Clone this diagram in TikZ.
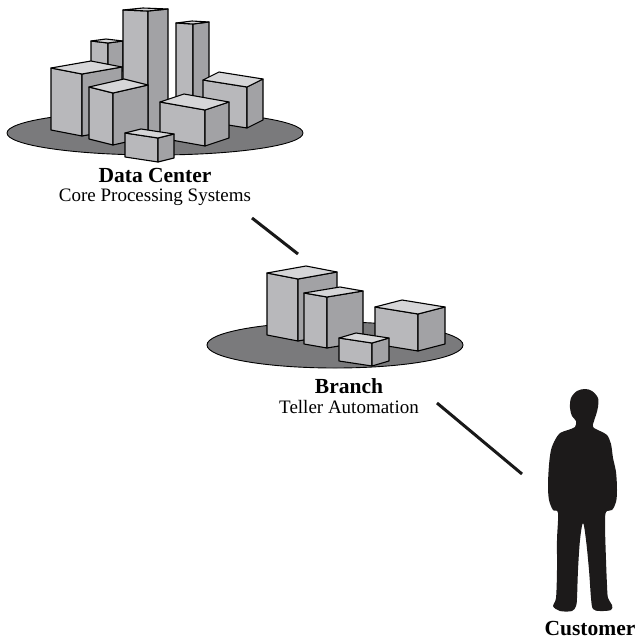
\documentclass[tikz,border=0pt]{standalone}
\usepackage{fontspec}
\setmainfont{Liberation Serif}
\usetikzlibrary{calc}

\definecolor{plate}{RGB}{122,122,124}
\definecolor{boxtop}{RGB}{214,214,216}
\definecolor{boxfront}{RGB}{184,184,187}
\definecolor{boxside}{RGB}{162,162,165}
\definecolor{figure}{RGB}{28,26,26}

% a box seen from above: left, front and right corners of the top,
% its back corner, and the height of the vertical edges
\newcommand\blk[5]{%
  \coordinate (bL) at #1; \coordinate (bF) at #2;
  \coordinate (bR) at #3; \coordinate (bB) at #4;
  \filldraw[boxedge,fill=boxfront] (bL) -- (bF) -- ($(bF)+(0,#5)$) -- ($(bL)+(0,#5)$) -- cycle;
  \filldraw[boxedge,fill=boxside] (bF) -- (bR) -- ($(bR)+(0,#5)$) -- ($(bF)+(0,#5)$) -- cycle;
  \filldraw[boxedge,fill=boxtop] (bL) -- (bF) -- (bR) -- (bB) -- cycle;
}

\tikzset{
  boxedge/.style={draw=black, line width=1.1pt, line join=round},
  platestyle/.style={draw=black, line width=0.9pt, fill=plate},
  link/.style={line width=3pt, draw=black!90},
  title/.style={font=\fontsize{21.5}{24}\selectfont\bfseries, anchor=base, inner sep=0pt},
  subtitle/.style={font=\fontsize{19}{22}\selectfont, anchor=base, inner sep=0pt},
}

\begin{document}
\begin{tikzpicture}[x=1pt, y=-1pt]
\useasboundingbox (0,0) rectangle (638,640);

% ---- data center ----
\filldraw[platestyle] (155,133) ellipse [x radius=148pt, y radius=22pt];
\blk{(91,41)}{(108,43)}{(123,41)}{(106,39)}{30}
\blk{(123,10)}{(148,11)}{(168,9)}{(143,8)}{125}
\blk{(176,23)}{(193,24)}{(209,22)}{(192,21)}{80}
\blk{(203,80)}{(247,87)}{(263,79)}{(219,72)}{41}
\blk{(51,68)}{(82,74)}{(122,67)}{(91,61)}{62}
\blk{(89,87)}{(113,93)}{(148,85)}{(124,79)}{52}
\blk{(160,102)}{(205,110)}{(229,102)}{(184,94)}{36}
\blk{(125,133)}{(158,138)}{(174,134)}{(141,129)}{24}

\node[title] (dc) at (155,182) {Data Center};
\node[subtitle] (dcsub) at (155,201) {Core Processing Systems};

% ---- branch ----
\filldraw[platestyle] (335,345) ellipse [x radius=128pt, y radius=23pt];
\blk{(267,273)}{(298,279)}{(337,272)}{(306,266)}{62}
\blk{(304,293)}{(327,297)}{(363,291)}{(340,287)}{51}
\blk{(375,307)}{(418,314)}{(445,307)}{(402,300)}{37}
\blk{(339,338)}{(372,343)}{(389,338)}{(356,333)}{23}

\node[title] (br) at (349,393) {Branch};
\node[subtitle] (brsub) at (349,413) {Teller Automation};

% ---- customer ----
\fill[figure] plot[smooth cycle, tension=0.55] coordinates {
  (585,389) (592,391) (598,398) (598,407) (596,415) (594,421) (593,427)
  (600,431) (607,435) (611,444) (613,458) (616,472) (617,490) (616,502)
  (612,510) (606,512) (605,525) (606,560) (607,585) (608,598) (612,605)
  (611,610) (600,611) (593,609) (591,598) (589,570) (586,540) (583,523)
  (580,540) (578,570) (577,598) (576,606) (572,611) (560,611) (553,606)
  (556,598) (557,570) (557,540) (558,513) (553,510) (549,500) (548,485)
  (549,465) (551,450) (555,440) (560,433) (568,430) (575,427) (576,421)
  (572,416) (570,408) (571,398) (577,391)};
\node[title] (cu) at (590,635) {Customer};

% ---- connectors ----
\coordinate (dcEnd) at (252,218);
\coordinate (brTop) at (298,254);
\coordinate (brEnd) at (437,403);
\coordinate (cuEnd) at (522,474);
\draw[link] (dcEnd) -- (brTop);
\draw[link] (brEnd) -- (cuEnd);
\end{tikzpicture}
\end{document}
